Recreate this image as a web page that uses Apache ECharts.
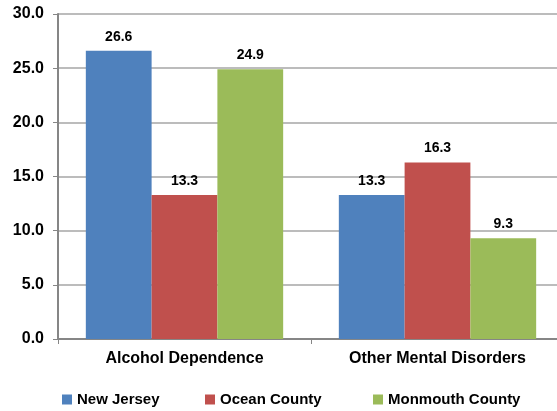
<!DOCTYPE html>
<html><head><meta charset="utf-8">
<script src="https://cdn.jsdelivr.net/npm/echarts@6/dist/echarts.min.js"></script>
<style>html,body{margin:0;padding:0;background:#fff;overflow:hidden}#c{width:564px;height:411px}</style>
</head><body><div id="c"></div>
<script>
const categories = ['Alcohol Dependence', 'Other Mental Disorders'];
const seriesNames = ['New Jersey', 'Ocean County', 'Monmouth County'];
const newJersey = [26.6, 13.3];
const oceanCounty = [13.3, 16.3];
const monmouthCounty = [24.9, 9.3];
const colors = ['#4F81BD', '#C0504D', '#9BBB59'];
const font = 'Liberation Sans';
const chart = echarts.init(document.getElementById('c'));
const mk = (name, data, i) => ({
  name, type: 'bar', data, barGap: '0%', barCategoryGap: '22%',
  itemStyle: { color: colors[i] },
  label: { show: true, position: 'top', distance: 7, formatter: p => p.value.toFixed(1),
    fontFamily: font, fontWeight: 'bold', fontSize: 14, color: '#000' }
});
const legendLefts = [57, 200, 368];
chart.setOption({
  animation: false,
  grid: { left: 58, right: 0, top: 14, height: 325, containLabel: false },
  legend: seriesNames.map((n, i) => ({
    top: 387, left: legendLefts[i], itemWidth: 10, itemHeight: 10, icon: 'rect',
    textStyle: { fontFamily: font, fontWeight: 'bold', fontSize: 15, color: '#000' },
    data: [n] })),
  xAxis: { type: 'category', data: categories,
    axisLine: { lineStyle: { color: '#868686', width: 2 } },
    axisTick: { show: true, length: 5, lineStyle: { color: '#868686' } },
    axisLabel: { fontFamily: font, fontWeight: 'bold', fontSize: 16, color: '#000', margin: 12 } },
  yAxis: { type: 'value', min: 0, max: 30, interval: 5,
    axisLine: { show: true, lineStyle: { color: '#868686', width: 2 } },
    axisTick: { show: true, length: 5, lineStyle: { color: '#868686' } },
    splitLine: { lineStyle: { color: '#A6A6A6', width: 1.5 } },
    axisLabel: { fontFamily: font, fontWeight: 'bold', fontSize: 16, color: '#000', margin: 14,
      formatter: v => v.toFixed(1) } },
  series: [mk(seriesNames[0], newJersey, 0), mk(seriesNames[1], oceanCounty, 1), mk(seriesNames[2], monmouthCounty, 2)]
});
</script></body></html>
